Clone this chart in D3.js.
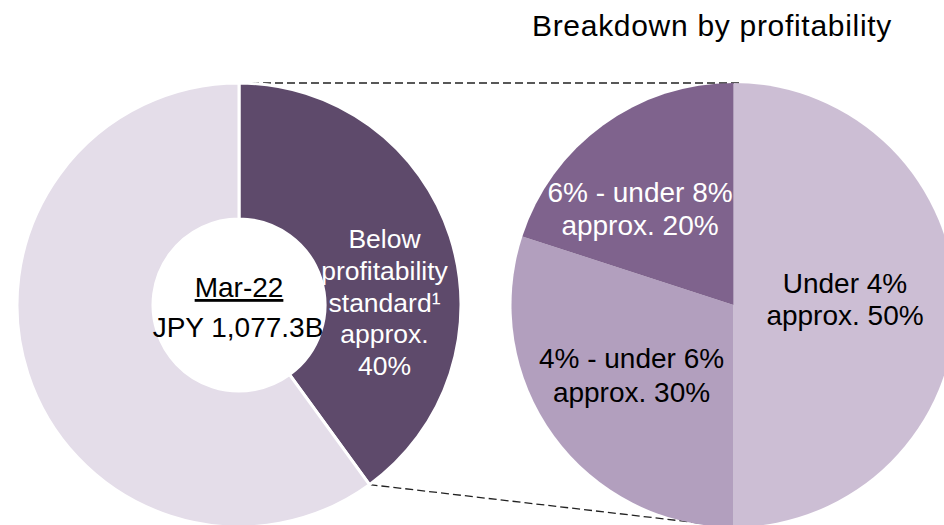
<!DOCTYPE html>
<html>
<head>
<meta charset="utf-8">
<script src="https://cdn.jsdelivr.net/npm/d3@7"></script>
<style>
  html, body { margin: 0; padding: 0; background: #fff; }
  svg { display: block; font-family: "Liberation Sans", Arial, sans-serif; }
</style>
</head>
<body>
<svg id="chart" width="944" height="525"></svg>
<script>
// Portfolio split (left donut)
const overallCategories = ["Below profitability standard", "Other"];
const overallValues = [40, 60];
const overallLabelLines = [["Below", "profitability", "standard\u00B9", "approx.", "40%"], []];

// Centre caption of the donut
const periodLabel = "Mar-22";
const totalLabel = "JPY 1,077.3B";

// Breakdown of the below-standard slice (right pie)
const breakdownCategories = ["Under 4%", "4% - under 6%", "6% - under 8%"];
const breakdownValues = [50, 30, 20];
const breakdownLabelLines = [
  ["Under 4%", "approx. 50%"],
  ["4% - under 6%", "approx. 30%"],
  ["6% - under 8%", "approx. 20%"]
];

const titleText = "Breakdown by profitability";

// ---- layout ----
const svg = d3.select("#chart");
const R = 222;
const donut = { cx: 239, cy: 305, inner: 86 };
const pieC = { cx: 733.5, cy: 305 };

const overallColor = d3.scaleOrdinal().domain(overallCategories).range(["#5E4A6B", "#E4DDE9"]);
const overallText = d3.scaleOrdinal().domain(overallCategories).range(["#ffffff", "#000000"]);
const breakdownColor = d3.scaleOrdinal().domain(breakdownCategories).range(["#CCBED4", "#B29FBE", "#7F638D"]);
const breakdownText = d3.scaleOrdinal().domain(breakdownCategories).range(["#000000", "#000000", "#ffffff"]);

const pie = d3.pie().sort(null).value(d => d.value);

const overallArcs = pie(overallCategories.map((c, i) => ({ cat: c, value: overallValues[i], lines: overallLabelLines[i] })));
const breakdownArcs = pie(breakdownCategories.map((c, i) => ({ cat: c, value: breakdownValues[i], lines: breakdownLabelLines[i] })));

const donutArc = d3.arc().innerRadius(donut.inner).outerRadius(R);
const pieArc = d3.arc().innerRadius(0).outerRadius(R);

// point on a circle at a d3 pie angle (0 = 12 o'clock, clockwise)
const polar = (c, r, a) => [c.cx + r * Math.sin(a), c.cy - r * Math.cos(a)];

// ---- dashed connectors from the highlighted slice to the breakdown pie ----
const hi = overallArcs[0];
const topFrom = polar(donut, R, hi.startAngle);
const botFrom = polar(donut, R, hi.endAngle);
const topTo = polar(pieC, R, 0);
const botTo = polar(pieC, R, Math.PI);

svg.append("g").selectAll("line")
  .data([[topFrom, [topTo[0] + 6, topTo[1]]], [botFrom, botTo]])
  .join("line")
  .attr("x1", d => d[0][0]).attr("y1", d => d[0][1])
  .attr("x2", d => d[1][0]).attr("y2", d => d[1][1])
  .attr("stroke", "#222")
  .attr("stroke-width", 1.3)
  .attr("stroke-dasharray", "8,4");

// ---- left donut ----
const gD = svg.append("g").attr("transform", `translate(${donut.cx},${donut.cy})`);
gD.selectAll("path")
  .data(overallArcs)
  .join("path")
  .attr("d", donutArc)
  .attr("fill", d => overallColor(d.data.cat))
  .attr("stroke", "#fff")
  .attr("stroke-width", 3)
  .attr("stroke-linejoin", "miter");

// label inside the highlighted slice
const dLabel = { dx: 145.5, base: -57, lh: 31.8, size: 26.5 };
gD.selectAll("text.slice")
  .data(overallArcs.filter(d => d.data.lines.length))
  .join("text")
  .attr("class", "slice")
  .attr("text-anchor", "middle")
  .attr("font-size", dLabel.size)
  .attr("fill", d => overallText(d.data.cat))
  .each(function (d) {
    d3.select(this).selectAll("tspan")
      .data(d.data.lines)
      .join("tspan")
      .attr("x", dLabel.dx)
      .attr("y", (l, i) => dLabel.base + i * dLabel.lh)
      .text(l => l);
  });

// centre caption
gD.append("text")
  .attr("text-anchor", "middle")
  .attr("y", -8)
  .attr("font-size", 28)
  .attr("fill", "#000")
  .style("text-decoration", "underline")
  .text(periodLabel);
gD.append("text")
  .attr("text-anchor", "middle")
  .attr("x", -1)
  .attr("y", 32)
  .attr("font-size", 28)
  .attr("fill", "#000")
  .text(totalLabel);

// ---- right breakdown pie ----
const gP = svg.append("g").attr("transform", `translate(${pieC.cx},${pieC.cy})`);
gP.selectAll("path")
  .data(breakdownArcs)
  .join("path")
  .attr("d", pieArc)
  .attr("fill", d => breakdownColor(d.data.cat));

const pLabel = [
  { dx: 111.5, base: -12, lh: 32 },
  { dx: -102, base: 63, lh: 34 },
  { dx: -93.5, base: -103, lh: 33 }
];
gP.selectAll("text.slice")
  .data(breakdownArcs)
  .join("text")
  .attr("class", "slice")
  .attr("text-anchor", "middle")
  .attr("font-size", 28)
  .attr("fill", d => breakdownText(d.data.cat))
  .each(function (d, i) {
    const p = pLabel[i];
    d3.select(this).selectAll("tspan")
      .data(d.data.lines)
      .join("tspan")
      .attr("x", p.dx)
      .attr("y", (l, j) => p.base + j * p.lh)
      .text(l => l);
  });

// ---- title ----
svg.append("text")
  .attr("x", 712)
  .attr("y", 36)
  .attr("text-anchor", "middle")
  .attr("font-size", 30)
  .attr("letter-spacing", 0.7)
  .attr("fill", "#000")
  .text(titleText);
</script>
</body>
</html>
